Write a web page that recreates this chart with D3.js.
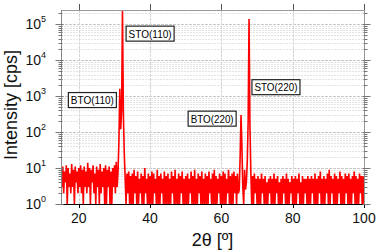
<!DOCTYPE html>
<html>
<head>
<meta charset="utf-8">
<script src="https://cdn.jsdelivr.net/npm/d3@7"></script>
<style>
body { margin:0; background:#fff; }
text { font-family: "Liberation Sans", Arial, sans-serif; }
</style>
</head>
<body>
<svg id="chart"></svg>
<script>
// scan: 2theta from 15 deg in 0.25 deg steps, intensity in cps
var scanStart = 15
var scanStep = 0.25
var counts = [
    9,3,11,2,8,4,12,1,10,3,7,2,13,3,9,1,11,4,8,2,
    10,3,12,2,9,1,11,3,8,2,14,3,10,1,9,4,12,2,7,1,
    11,3,9,1,13,2,8,3,10,1,12,1,9,3,11,1,8,1,10,3,
    12,2,15,3,8,60,1600,120,400,260000,300,25,5,1,7,2,8,1,6,1,
    7,1,9,2,6,1,8,1,5,2,7,1,6,1,10,2,5,1,7,1,
    6,1,8,1,7,2,5,1,9,1,6,1,7,2,5,1,8,1,6,1,
    7,1,5,1,8,2,6,1,9,1,5,1,7,1,6,2,8,1,5,1,
    6,1,7,1,5,2,8,1,6,1,9,1,5,1,7,2,6,1,8,1,
    5,1,7,1,6,1,8,2,5,1,7,1,9,1,6,1,5,2,7,1,
    6,1,8,1,7,1,5,2,9,1,6,1,7,1,8,2,6,1,7,2,
    2.5,20,300,40,3,1,9,2.5,4,15,200,140000,150,8,1,6,1,7,2,5,
    1,6,1,5,1,7,2,5,1,6,1,4,1,5,2,6,1,5,1,7,
    1,5,2,6,1,4,1,5,1,6,2,5,1,7,1,5,1,4,2,6,
    1,5,1,6,1,5,2,7,1,4,1,6,1,5,2,5,1,6,1,5,
    1,6,2,5,1,7,1,5,1,6,2,8,1,5,1,6,1,5,2,7,
    1,9,1,6,2,5,1,7,1,6,1,5,2,8,1,6,1,5,1,7,
    2,6,1,7,1,5,1,6,2,8,1,6,1,5,1,7,2,6,1,6,
    1
]
var xTicks = [20, 40, 60, 80, 100]
var yDecades = [0, 1, 2, 3, 4, 5]
var peakNames = ["BTO(110)", "STO(110)", "BTO(220)", "STO(220)"]
var labelAngles = [23.8, 40.0, 57.4, 75.3]
var labelCounts = [780, 55000, 237, 1780]

var initGraph = function(target)
{
    var screen = {width:377, height:252}
    var margins = {top:10, bottom:48, left:61, right:13}
    var graph = {
        width:screen.width-margins.left-margins.right,
        height:screen.height-margins.top-margins.bottom
    }

    var svg = d3.select(target)
        .attr("width", screen.width)
        .attr("height", screen.height)

    var xScale = d3.scaleLinear()
        .domain([15, 100])
        .range([0, graph.width])

    var yScale = d3.scaleLog()
        .domain([1, 2.5e5])
        .range([graph.height, 0])
        .clamp(true)

    var g = svg.append("g")
        .attr("transform", "translate(" + margins.left + "," + margins.top + ")")

    svg.append("defs").append("clipPath")
        .attr("id", "plotclip")
        .append("rect")
        .attr("width", graph.width)
        .attr("height", graph.height)

    // minor grid
    var minorVals = []
    yDecades.forEach(function(d)
    {
        for (var m = 2; m <= 9; m++)
        {
            var v = m * Math.pow(10, d)
            if (v < 2.5e5) minorVals.push(v)
        }
    })
    g.selectAll(".minor-grid")
        .data(minorVals)
        .enter()
        .append("line")
        .attr("x1", 0)
        .attr("x2", graph.width)
        .attr("y1", function(v) { return Math.round(yScale(v)) + 0.5 })
        .attr("y2", function(v) { return Math.round(yScale(v)) + 0.5 })
        .attr("stroke", "#e4e4e4")
        .attr("stroke-dasharray", "2,1")

    g.selectAll(".major-grid")
        .data(yDecades.slice(1))
        .enter()
        .append("line")
        .attr("x1", 0)
        .attr("x2", graph.width)
        .attr("y1", function(d) { return Math.round(yScale(Math.pow(10, d))) + 0.5 })
        .attr("y2", function(d) { return Math.round(yScale(Math.pow(10, d))) + 0.5 })
        .attr("stroke", "#c8c8c8")
        .attr("stroke-dasharray", "3,1")

    g.selectAll(".x-grid")
        .data(xTicks.slice(0, 4))
        .enter()
        .append("line")
        .attr("x1", function(t) { return Math.round(xScale(t)) + 0.5 })
        .attr("x2", function(t) { return Math.round(xScale(t)) + 0.5 })
        .attr("y1", 0)
        .attr("y2", graph.height)
        .attr("stroke", "#d4d4d4")
        .attr("stroke-dasharray", "3,1")

    // data line
    var points = counts.map(function(c, i)
    {
        return {angle: scanStart + i * scanStep, cps: c}
    })
    var lineGenerator = d3.line()
        .x(function(p) { return xScale(p.angle) })
        .y(function(p) { return yScale(p.cps) })

    g.append("path")
        .datum(points)
        .attr("clip-path", "url(#plotclip)")
        .attr("fill", "none")
        .attr("stroke", "#ff0000")
        .attr("stroke-width", 1.6)
        .attr("stroke-linejoin", "miter")
        .attr("stroke-miterlimit", 2)
        .attr("d", lineGenerator)

    // frame
    g.append("line").attr("x1", 0).attr("x2", graph.width).attr("y1", 0.5).attr("y2", 0.5)
        .attr("stroke", "#999")
    g.append("line").attr("x1", graph.width + 0.5).attr("x2", graph.width + 0.5).attr("y1", 0).attr("y2", graph.height)
        .attr("stroke", "#999")
    g.append("line").attr("x1", 0.5).attr("x2", 0.5).attr("y1", 0).attr("y2", graph.height)
        .attr("stroke", "#888")
    g.append("line").attr("x1", 0).attr("x2", graph.width + 1).attr("y1", graph.height + 0.5).attr("y2", graph.height + 0.5)
        .attr("stroke", "#000")

    // x ticks top and bottom
    g.selectAll(".x-tick-top")
        .data(xTicks)
        .enter()
        .append("line")
        .attr("x1", function(t) { return Math.round(xScale(t)) + 0.5 })
        .attr("x2", function(t) { return Math.round(xScale(t)) + 0.5 })
        .attr("y1", 0)
        .attr("y2", -6)
        .attr("stroke", "#555")
    g.selectAll(".x-tick-bottom")
        .data(xTicks)
        .enter()
        .append("line")
        .attr("x1", function(t) { return Math.round(xScale(t)) + 0.5 })
        .attr("x2", function(t) { return Math.round(xScale(t)) + 0.5 })
        .attr("y1", graph.height)
        .attr("y2", graph.height + 4)
        .attr("stroke", "#000")
    g.selectAll(".x-label")
        .data(xTicks)
        .enter()
        .append("text")
        .attr("x", function(t) { return xScale(t) })
        .attr("y", graph.height + 19)
        .attr("text-anchor", "middle")
        .attr("font-size", 14)
        .attr("fill", "#111")
        .text(function(t) { return t })

    // y ticks left and right
    var sides = [{x:0.5, dir:-1, col:"#777"}, {x:graph.width + 0.5, dir:1, col:"#777"}]
    sides.forEach(function(s)
    {
        g.selectAll(null)
            .data(minorVals)
            .enter()
            .append("line")
            .attr("x1", s.x - s.dir * 1)
            .attr("x2", s.x + s.dir * 3)
            .attr("y1", function(v) { return Math.round(yScale(v)) + 0.5 })
            .attr("y2", function(v) { return Math.round(yScale(v)) + 0.5 })
            .attr("stroke", s.col)
        g.selectAll(null)
            .data(yDecades)
            .enter()
            .append("line")
            .attr("x1", s.x - s.dir * 2)
            .attr("x2", s.x + s.dir * 6)
            .attr("y1", function(d) { return Math.round(yScale(Math.pow(10, d))) + 0.5 })
            .attr("y2", function(d) { return Math.round(yScale(Math.pow(10, d))) + 0.5 })
            .attr("stroke", s.col)
    })

    var yLabels = g.selectAll(".y-label")
        .data(yDecades)
        .enter()
        .append("text")
        .attr("x", -15)
        .attr("y", function(d) { return yScale(Math.pow(10, d)) + 5 })
        .attr("text-anchor", "end")
        .attr("font-size", 14)
        .attr("fill", "#111")
    yLabels.append("tspan").text("10")
    yLabels.append("tspan")
        .attr("dy", -7)
        .attr("font-size", 9)
        .text(function(d) { return d })

    // axis titles
    svg.append("text")
        .attr("transform", "translate(17," + (margins.top + 95) + ") rotate(-90)")
        .attr("text-anchor", "middle")
        .attr("font-size", 18)
        .attr("fill", "#111")
        .text("Intensity [cps]")
    svg.append("text")
        .attr("x", margins.left + graph.width / 2)
        .attr("y", 246)
        .attr("text-anchor", "middle")
        .attr("font-size", 18)
        .attr("fill", "#111")
        .text("2θ [º]")

    // peak labels
    var labels = g.selectAll(".peak-label")
        .data(peakNames)
        .enter()
        .append("g")
        .attr("transform", function(n, i)
        {
            return "translate(" + xScale(labelAngles[i]) + "," + yScale(labelCounts[i]) + ")"
        })
    labels.append("rect")
        .attr("x", -24)
        .attr("y", -7.5)
        .attr("width", 48)
        .attr("height", 15)
        .attr("fill", "#fff")
        .attr("stroke", "#222")
        .attr("stroke-width", 1.2)
    labels.append("text")
        .attr("text-anchor", "middle")
        .attr("y", 4)
        .attr("font-size", 11.5)
        .attr("textLength", 43)
        .attr("lengthAdjust", "spacingAndGlyphs")
        .attr("fill", "#000")
        .text(function(n) { return n })
}

initGraph("#chart")
</script>
</body>
</html>
